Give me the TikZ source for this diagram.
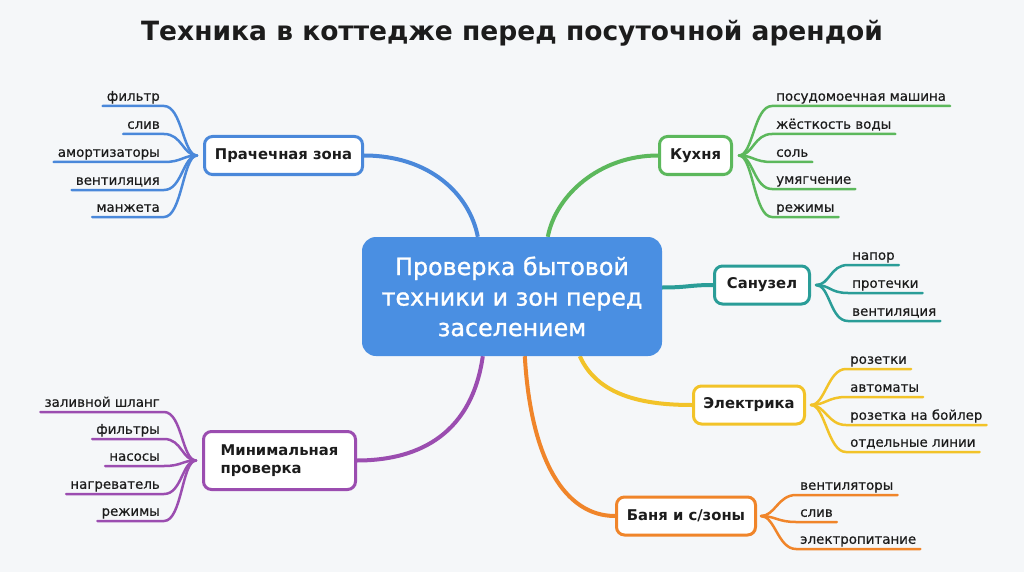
\documentclass[tikz,border=0pt]{standalone}
\usepackage{fontspec}
\setmainfont{DejaVu Sans}
\newfontfamily\medfont{DejaVu Sans}[FakeBold=0.5]
\newfontfamily\cenfont{DejaVu Sans}[FakeBold=1.1]
\usetikzlibrary{calc}
\definecolor{bgc}{HTML}{F5F7F9}
\definecolor{cblue}{HTML}{4A8FE2}
\definecolor{pblue}{HTML}{4A88DA}
\definecolor{cgreen}{HTML}{5CB85C}
\definecolor{cteal}{HTML}{2A9D98}
\definecolor{cyellow}{HTML}{F2C329}
\definecolor{corange}{HTML}{F0852A}
\definecolor{cpurple}{HTML}{9B4DB0}
\definecolor{ink}{HTML}{1C1C1C}
\pgfdeclarelayer{bgl}
\pgfdeclarelayer{lines}
\pgfsetlayers{bgl,lines,main}
\begin{document}
\begin{tikzpicture}[x=1pt,y=-1pt,
  titlestyle/.style={font=\fontsize{26.5}{30}\selectfont\bfseries, text=ink},
  centerbox/.style={fill=cblue, rounded corners=14pt, minimum width=300pt, minimum height=119pt, text=white, align=center, font=\cenfont\fontsize{23.8}{30.5}\selectfont},
  hub/.style={draw=#1, line width=3pt, fill=white, rounded corners=8pt, minimum height=38pt, font=\fontsize{14.8}{18.5}\selectfont\bfseries, text=ink, inner xsep=8pt},
  leafR/.style={anchor=south west, inner xsep=4pt, inner ysep=5pt, text depth=0pt, font=\medfont\fontsize{13.4}{16}\selectfont, text=ink},
  leafL/.style={leafR, anchor=south east},
  branch/.style={draw=#1, line width=4pt},
  twig/.style={draw=#1, line width=2.5pt, line cap=round},
]
\begin{pgfonlayer}{bgl}
\fill[bgc] (0,0) rectangle (1024,572);
\end{pgfonlayer}
\useasboundingbox (0,0) rectangle (1024,572);

\node[titlestyle] (title) at (512,33) {Техника в коттедже перед посуточной арендой};

\node[centerbox] (c) at (512,296.5) {Проверка бытовой\\техники и зон перед\\заселением};

\node[hub=pblue, minimum width=158pt] (pr) at (283.5,155.5) {Прачечная зона};
\node[hub=cgreen, minimum width=72pt] (ku) at (695.5,155.5) {Кухня};
\node[hub=cteal, minimum width=95pt] (sa) at (762,285) {Санузел};
\node[hub=cyellow, minimum width=111pt] (el) at (749,405) {Электрика};
\node[hub=corange, minimum width=139pt] (ba) at (686,516) {Баня и с/зоны};
\node[hub=cpurple, minimum width=152pt, minimum height=58pt, align=left] (mi) at (279.5,460.5) {Минимальная\\проверка};

% center anchor points
\coordinate (cb) at ($(c.north west)+(116,0)$);
\coordinate (cg) at ($(c.north west)+(186,0)$);
\coordinate (ct) at ($(c.east)+(0,-9)$);
\coordinate (cp) at ($(c.south west)+(121,0)$);
\coordinate (co) at ($(c.south west)+(163,0)$);
\coordinate (cy) at ($(c.south west)+(218,0)$);

\begin{pgfonlayer}{lines}
\draw[branch=pblue] (pr.east) .. controls ($(pr.east)+(66,0)$) and ($(cb)+(-8,-42)$) .. (cb);
\draw[branch=cgreen] (ku.west) .. controls ($(ku.west)+(-58,0)$) and ($(cg)+(8,-42)$) .. (cg);
\draw[branch=cteal] (ct) .. controls ($(ct)+(26,0)$) and ($(sa.west)+(-24,0)$) .. (sa.west);
\draw[branch=cyellow] (cy) .. controls ($(cy)+(18,40)$) and ($(el.west)+(-48,0)$) .. (el.west);
\draw[branch=corange] (co) .. controls ($(co)+(6,104)$) and ($(ba.west)+(-50,0)$) .. (ba.west);
\draw[branch=cpurple] (cp) .. controls ($(cp)+(-12,84)$) and ($(mi.east)+(54,0)$) .. (mi.east);
\end{pgfonlayer}

% leaves: Прачечная зона
\coordinate (prz) at ($(pr.west)+(-6,0)$);
\node[leafL] (p1) at (164,106) {фильтр};
\node[leafL] (p2) at (164,134) {слив};
\node[leafL] (p3) at (164,162) {амортизаторы};
\node[leafL] (p4) at (164,190) {вентиляция};
\node[leafL] (p5) at (164,217) {манжета};
\foreach \n in {p1,p2,p3,p4,p5}{
  \draw[twig=pblue] (prz) .. controls ($(prz)+(-14,0)$) and ($(\n.south east)+(18,0)$) .. (\n.south east) -- (\n.south west);
}

% leaves: Кухня
\coordinate (kuz) at ($(ku.east)+(6,0)$);
\node[leafR] (k1) at (772,106) {посудомоечная машина};
\node[leafR] (k2) at (772,134) {жёсткость воды};
\node[leafR] (k3) at (772,162) {соль};
\node[leafR] (k4) at (772,189) {умягчение};
\node[leafR] (k5) at (772,217) {режимы};
\foreach \n in {k1,k2,k3,k4,k5}{
  \draw[twig=cgreen] (kuz) .. controls ($(kuz)+(14,0)$) and ($(\n.south west)+(-18,0)$) .. (\n.south west) -- (\n.south east);
}

% leaves: Санузел
\coordinate (saz) at ($(sa.east)+(5,0)$);
\node[leafR] (s1) at (848,265) {напор};
\node[leafR] (s2) at (848,293) {протечки};
\node[leafR] (s3) at (848,321) {вентиляция};
\foreach \n in {s1,s2,s3}{
  \draw[twig=cteal] (saz) .. controls ($(saz)+(14,0)$) and ($(\n.south west)+(-18,0)$) .. (\n.south west) -- (\n.south east);
}

% leaves: Электрика
\coordinate (elz) at ($(el.east)+(5,0)$);
\node[leafR] (e1) at (846,369) {розетки};
\node[leafR] (e2) at (846,397) {автоматы};
\node[leafR] (e3) at (846,425) {розетка на бойлер};
\node[leafR] (e4) at (846,452) {отдельные линии};
\foreach \n in {e1,e2,e3,e4}{
  \draw[twig=cyellow] (elz) .. controls ($(elz)+(14,0)$) and ($(\n.south west)+(-18,0)$) .. (\n.south west) -- (\n.south east);
}

% leaves: Баня и с/зоны
\coordinate (baz) at ($(ba.east)+(4,0)$);
\node[leafR] (b1) at (796,495) {вентиляторы};
\node[leafR] (b2) at (796,522) {слив};
\node[leafR] (b3) at (796,549) {электропитание};
\foreach \n in {b1,b2,b3}{
  \draw[twig=corange] (baz) .. controls ($(baz)+(14,0)$) and ($(\n.south west)+(-18,0)$) .. (\n.south west) -- (\n.south east);
}

% leaves: Минимальная проверка
\coordinate (miz) at ($(mi.west)+(-6,0)$);
\node[leafL] (m1) at (164,412) {заливной шланг};
\node[leafL] (m2) at (164,439) {фильтры};
\node[leafL] (m3) at (164,466) {насосы};
\node[leafL] (m4) at (164,494) {нагреватель};
\node[leafL] (m5) at (164,521) {режимы};
\foreach \n in {m1,m2,m3,m4,m5}{
  \draw[twig=cpurple] (miz) .. controls ($(miz)+(-14,0)$) and ($(\n.south east)+(18,0)$) .. (\n.south east) -- (\n.south west);
}
\end{tikzpicture}
\end{document}
